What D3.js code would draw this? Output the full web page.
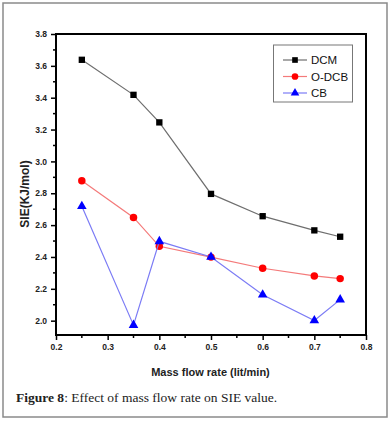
<!DOCTYPE html>
<html><head><meta charset="utf-8">
<script src="https://cdn.jsdelivr.net/npm/d3@7"></script>
<style>body{margin:0;background:#fff}</style>
</head><body>
<svg id="c" width="390" height="422"></svg>
<script>
const flowRates = [0.25, 0.35, 0.4, 0.5, 0.6, 0.7, 0.75];
const dcm  = [3.638, 3.418, 3.245, 2.796, 2.656, 2.567, 2.527];
const odcb = [2.878, 2.648, 2.467, 2.399, 2.329, 2.281, 2.264];
const cb   = [2.718, 1.972, 2.498, 2.400, 2.163, 2.001, 2.132];
const seriesNames = ["DCM", "O-DCB", "CB"];
const xTicks = [0.2, 0.3, 0.4, 0.5, 0.6, 0.7, 0.8];
const yTicks = [2.0, 2.2, 2.4, 2.6, 2.8, 3.0, 3.2, 3.4, 3.6, 3.8];

const svg = d3.select("#c");
const m = {l: 56, r: 366, t: 34, b: 335};

svg.append("rect").attr("x", 3).attr("y", 3).attr("width", 384).attr("height", 414)
  .attr("fill", "none").attr("stroke", "#8a8a8a").attr("stroke-width", 1.5);

const x = d3.scaleLinear().domain([0.2, 0.8]).range([m.l, m.r]);
const y = d3.scaleLinear().domain([1.91, 3.8]).range([m.b, m.t]);

const font = "Liberation Sans, Arial, sans-serif";

const xMinor = d3.range(0.25, 0.8, 0.1);
const yMinor = d3.range(1.9, 3.8, 0.2).map(v => +v.toFixed(2)).filter(v => v > 1.91);
const gx = svg.append("g").attr("transform", `translate(0,${m.b})`)
  .call(d3.axisBottom(x).tickValues(xTicks).tickFormat(d3.format(".1f")).tickSize(5).tickSizeOuter(0).tickPadding(4));
gx.append("g").selectAll("line").data(xMinor).join("line")
  .attr("x1", d => x(d)).attr("x2", d => x(d)).attr("y1", 0).attr("y2", 3).attr("stroke", "#000").attr("stroke-width", 1.5);
const gy = svg.append("g").attr("transform", `translate(${m.l},0)`)
  .call(d3.axisLeft(y).tickValues(yTicks).tickFormat(d3.format(".1f")).tickSize(5).tickSizeOuter(0).tickPadding(4));
gy.append("g").selectAll("line").data(yMinor).join("line")
  .attr("y1", d => y(d)).attr("y2", d => y(d)).attr("x1", 0).attr("x2", -3).attr("stroke", "#000").attr("stroke-width", 1.5);
[gx, gy].forEach(g => {
  g.select(".domain").remove();
  g.selectAll(".tick line").attr("stroke-width", 1.5);
  g.selectAll("text").attr("font-family", font).attr("font-size", 8.5).attr("font-weight", "bold").attr("fill", "#222");
});

svg.append("rect").attr("x", m.l).attr("y", m.t).attr("width", m.r - m.l).attr("height", m.b - m.t)
  .attr("fill", "none").attr("stroke", "#000").attr("stroke-width", 2);

const data = [dcm, odcb, cb];
const lineCols = ["#6e6e6e", "#f47a7a", "#7b7bf5"];
const markCols = ["#000", "#ff0000", "#0000ff"];
const shapes = [d3.symbolSquare, d3.symbolCircle, d3.symbolTriangle];
const sizes = [40, 44, 40];

const line = d3.line().x(d => x(d[0])).y(d => y(d[1]));
data.forEach((s, i) => {
  const pts = flowRates.map((f, j) => [f, s[j]]);
  svg.append("path").attr("d", line(pts)).attr("fill", "none").attr("stroke", lineCols[i]).attr("stroke-width", 1.2);
  svg.append("g").selectAll("path").data(pts).join("path")
    .attr("transform", d => `translate(${x(d[0])},${y(d[1])})`)
    .attr("d", d3.symbol(shapes[i], sizes[i])).attr("fill", markCols[i]);
});

const lg = svg.append("g");
lg.append("rect").attr("x", 273.5).attr("y", 45).attr("width", 79).attr("height", 57)
  .attr("fill", "#fff").attr("stroke", "#777").attr("stroke-width", 1);
seriesNames.forEach((n, i) => {
  const yy = 60 + i * 16.5;
  lg.append("line").attr("x1", 283).attr("x2", 307).attr("y1", yy).attr("y2", yy)
    .attr("stroke", lineCols[i]).attr("stroke-width", 1.2);
  lg.append("path").attr("transform", `translate(295,${yy})`).attr("d", d3.symbol(shapes[i], sizes[i] * 0.8)).attr("fill", markCols[i]);
  lg.append("text").attr("x", 311).attr("y", yy + 4).text(n)
    .attr("font-family", font).attr("font-size", 11.5).attr("fill", "#111");
});

svg.append("text").attr("x", 210.5).attr("y", 376).attr("text-anchor", "middle")
  .attr("font-family", font).attr("font-size", 11).attr("font-weight", "bold").attr("fill", "#222")
  .text("Mass flow rate (lit/min)");
svg.append("text").attr("transform", `translate(29,194) rotate(-90)`).attr("text-anchor", "middle")
  .attr("font-family", font).attr("font-size", 12).attr("font-weight", "bold").attr("fill", "#222")
  .text("SIE(KJ/mol)");

const cap = svg.append("text").attr("x", 16).attr("y", 402)
  .attr("font-family", "Liberation Serif, Times New Roman, serif").attr("font-size", 13.5).attr("fill", "#222");
cap.append("tspan").attr("font-weight", "bold").text("Figure 8");
cap.append("tspan").text(": Effect of mass flow rate on SIE value.");
</script>
</body></html>
